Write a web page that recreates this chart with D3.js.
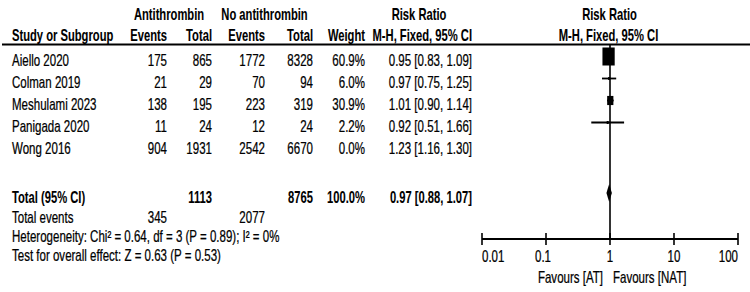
<!DOCTYPE html>
<html><head><meta charset="utf-8">
<script src="https://cdn.jsdelivr.net/npm/d3@7"></script>
<style>
html,body{margin:0;padding:0;background:#fff;}
svg{display:block;}
text{font-family:"Liberation Sans",Arial,sans-serif;font-size:16px;fill:#000;stroke:#000;stroke-width:0.25px;}
text.b{stroke-width:0.1px;}
</style></head>
<body>
<script>
const studies = ["Aiello 2020","Colman 2019","Meshulami 2023","Panigada 2020","Wong 2016"];
const atEvents = [175,21,138,11,904];
const atTotal = [865,29,195,24,1931];
const natEvents = [1772,70,223,12,2542];
const natTotal = [8328,94,319,24,6670];
const weights = [60.9,6.0,30.9,2.2,0.0];
const rr = [0.95,0.97,1.01,0.92,1.23];
const rrLo = [0.83,0.75,0.90,0.51,1.16];
const rrHi = [1.09,1.25,1.14,1.66,1.30];
const totalLabel = "Total (95% CI)";
const totalAt = 1113, totalNat = 8765, totalWeight = 100.0;
const totalRR = [0.97,0.88,1.07];
const totalEvents = [345,2077];
const hetText = "Heterogeneity: Chi\u00B2 = 0.64, df = 3 (P = 0.89); I\u00B2 = 0%";
const testText = "Test for overall effect: Z = 0.63 (P = 0.53)";
const tickValues = [0.01,0.1,1,10,100];
const tickLabels = ["0.01","0.1","1","10","100"];
const favLeft = "Favours [AT]", favRight = "Favours [NAT]";

const W=750,H=292, SXN=0.72, SXB=0.70;
const svg=d3.select("body").append("svg").attr("width",W).attr("height",H);
svg.append("rect").attr("width",W).attr("height",H).attr("fill","#fff");

function txt(x,y,s,anchor,bold){
  return svg.append("text").attr("class",bold?"b":null)
    .attr("transform",`translate(${x},${y}) scale(${bold?SXB:SXN},1)`)
    .attr("text-anchor",anchor||"start").attr("font-weight",bold?"bold":"normal").text(s);
}
const f2=d3.format(".2f"), f1=d3.format(".1f");
const rrStr=(a,b,c)=>`${f2(a)} [${f2(b)}, ${f2(c)}]`;

const col={study:12,e1:167,t1:212,e2:265,t2:313,w:365,rr:472};

// headers
txt(169,20,"Antithrombin","middle",true);
txt(264.5,20,"No antithrombin","middle",true);
txt(419,20,"Risk Ratio","middle",true);
txt(609.5,20,"Risk Ratio","middle",true);
txt(col.study,40.5,"Study or Subgroup","start",true);
txt(col.e1,40.5,"Events","end",true);
txt(col.t1,40.5,"Total","end",true);
txt(col.e2,40.5,"Events","end",true);
txt(col.t2,40.5,"Total","end",true);
txt(col.w,40.5,"Weight","end",true);
txt(col.rr,40.5,"M-H, Fixed, 95% CI","end",true);
txt(608.5,40.5,"M-H, Fixed, 95% CI","middle",true);
svg.append("line").attr("x1",2).attr("x2",750).attr("y1",44.5).attr("y2",44.5).attr("stroke","#000").attr("stroke-width",1.8);

const yRow=d3.scaleLinear().domain([0,1]).range([65.5,87.5]);
const x=d3.scaleLog().domain([0.01,100]).range([482,738]);
const size=d3.scaleLinear().domain([0,60.9]).range([0,18]);
const axisY=239;

studies.forEach((s,i)=>{
  const y=yRow(i);
  txt(col.study,y,s,"start");
  txt(col.e1,y,atEvents[i],"end");
  txt(col.t1,y,atTotal[i],"end");
  txt(col.e2,y,natEvents[i],"end");
  txt(col.t2,y,natTotal[i],"end");
  txt(col.w,y,f1(weights[i])+"%","end");
  txt(col.rr,y,rrStr(rr[i],rrLo[i],rrHi[i]),"end");
});

svg.append("line").attr("x1",x(1)).attr("x2",x(1)).attr("y1",45).attr("y2",axisY).attr("stroke","#000").attr("stroke-width",1.6);

studies.forEach((s,i)=>{
  if(weights[i]<=0) return;
  const cy=yRow(i)-9;
  svg.append("line").attr("x1",x(rrLo[i])).attr("x2",x(rrHi[i])).attr("y1",cy).attr("y2",cy).attr("stroke","#000").attr("stroke-width",1.8);
  const h=Math.max(size(weights[i]),3), w=h*0.68;
  svg.append("rect").attr("x",x(rr[i])-w/2).attr("y",cy-h/2).attr("width",w).attr("height",h).attr("fill","#000");
});

const yT=203;
txt(col.study,yT,totalLabel,"start",true);
txt(col.t1,yT,totalAt,"end",true);
txt(col.t2,yT,totalNat,"end",true);
txt(col.w,yT,f1(totalWeight)+"%","end",true);
txt(col.rr,yT,rrStr(totalRR[0],totalRR[1],totalRR[2]),"end",true);
const dy=yT-10;
svg.append("path").attr("d",`M${x(totalRR[1])},${dy} L${x(totalRR[0])},${dy-9} L${x(totalRR[2])},${dy} L${x(totalRR[0])},${dy+9} Z`).attr("fill","#000");

txt(col.study,222.5,"Total events","start");
txt(col.e1,222.5,totalEvents[0],"end");
txt(col.e2,222.5,totalEvents[1],"end");
txt(col.study,241.5,hetText,"start");
txt(col.study,260.5,testText,"start");

svg.append("line").attr("x1",x(0.01)).attr("x2",x(100)).attr("y1",axisY).attr("y2",axisY).attr("stroke","#000").attr("stroke-width",1.8);
tickValues.forEach((t,i)=>{
  svg.append("line").attr("x1",x(t)).attr("x2",x(t)).attr("y1",axisY-6).attr("y2",axisY+6).attr("stroke","#000").attr("stroke-width",1.6);
  const anchor=i===0?"start":(i===tickValues.length-1?"end":"middle");
  txt(x(t)+(i===1?-3:0),261.5,tickLabels[i],anchor);
});
txt(603,283,favLeft,"end");
txt(613,283,favRight,"start");
</script>
</body></html>
